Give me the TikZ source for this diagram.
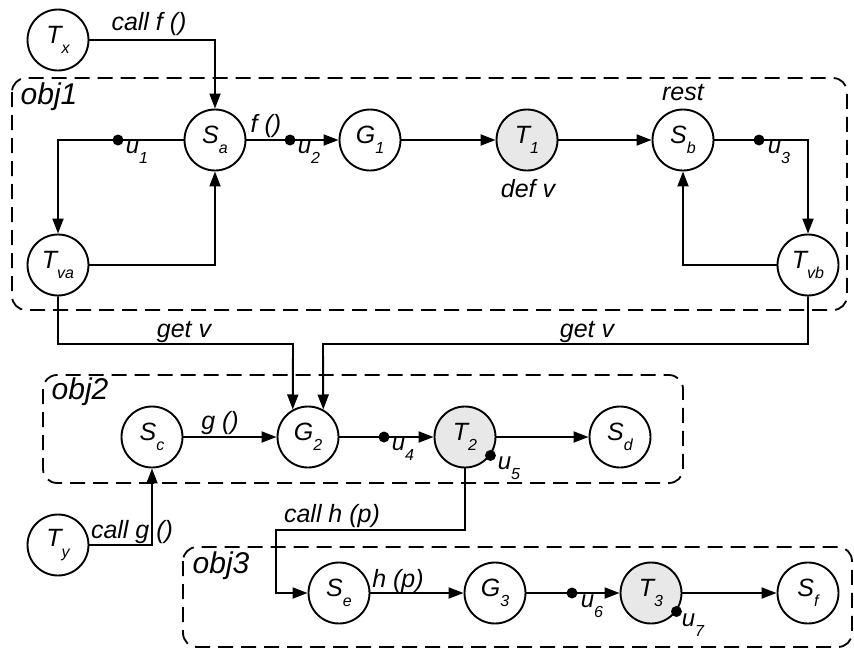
\documentclass[tikz,border=0pt]{standalone}
\usepackage{fontspec}
\setmainfont{Liberation Sans}
\usetikzlibrary{arrows.meta}
\newcommand\mysub[1]{\raisebox{-0.42em}{\fontsize{16}{16}\selectfont #1}}
\begin{document}
\begin{tikzpicture}[x=1pt,y=-1pt,
 st/.style={circle,draw,line width=1.9pt,minimum size=61pt,inner sep=0pt,font=\fontsize{25}{25}\selectfont\itshape},
 gst/.style={st,fill=black!9},
 arr/.style={line width=1.9pt,-{Triangle[length=15pt,width=11pt]}},
 dot/.style={circle,fill,inner sep=0pt,minimum size=11pt},
 lab/.style={font=\fontsize{25}{25}\selectfont\itshape,inner sep=0pt},
 ulab/.style={font=\fontsize{24}{24}\selectfont\itshape,inner sep=0pt},
 objlab/.style={font=\fontsize{30}{30}\selectfont\itshape,inner sep=0pt},
 grp/.style={draw,line width=1.8pt,dash pattern=on 15pt off 8pt,rounded corners=14pt}]
\useasboundingbox (0,0) rectangle (854,651);
% group boxes
\draw[grp] (12,78) rectangle (847,310);
\draw[grp] (43,375) rectangle (683,483);
\draw[grp] (183,547) rectangle (852,647);
\node[objlab] (o1) at (49,97) {obj1};
\node[objlab] (o2) at (80,392) {obj2};
\node[objlab] (o3) at (221,566) {obj3};
% states
\node[st] (Tx) at (58,40) {T\mysub{x}};
\node[st] (Sa) at (215,140) {S\mysub{a}};
\node[st] (G1) at (370,140) {G\mysub{1}};
\node[gst] (T1) at (527,140) {T\mysub{1}};
\node[st] (Sb) at (683,140) {S\mysub{b}};
\node[st] (Tva) at (58,265) {T\mysub{va}};
\node[st] (Tvb) at (808,265) {T\mysub{vb}};
\node[st] (Sc) at (152,437) {S\mysub{c}};
\node[st] (G2) at (308,437) {G\mysub{2}};
\node[gst] (T2) at (465,437) {T\mysub{2}};
\node[st] (Sd) at (620,437) {S\mysub{d}};
\node[st] (Ty) at (58,545) {T\mysub{y}};
\node[st] (Se) at (339,593) {S\mysub{e}};
\node[st] (G3) at (495,593) {G\mysub{3}};
\node[gst] (T3) at (651,593) {T\mysub{3}};
\node[st] (Sf) at (808,593) {S\mysub{f}};
% helper coordinates
\coordinate (gl) at (293,344);
\coordinate (gr) at (323,344);
\coordinate (hc) at (276,530);
% connectors
\draw[arr] (Tx.east) -| (Sa.north);
\draw[arr] (Sa.west) -| (Tva.north);
\draw[arr] (Tva.east) -| (Sa.south);
\draw[arr] (Sa) -- (G1);
\draw[arr] (G1) -- (T1);
\draw[arr] (T1) -- (Sb);
\draw[arr] (Sb.east) -| (Tvb.north);
\draw[arr] (Tvb.west) -| (Sb.south);
\draw[arr] (Tva.south) |- (gl) -- (G2.119);
\draw[arr] (Tvb.south) |- (gr) -- (G2.61);
\draw[arr] (Sc) -- (G2);
\draw[arr] (G2) -- (T2);
\draw[arr] (T2) -- (Sd);
\draw[arr] (Ty.east) -| (Sc.south);
\draw[arr] (T2.south) |- (hc) |- (Se.west);
\draw[arr] (Se) -- (G3);
\draw[arr] (G3) -- (T3);
\draw[arr] (T3) -- (Sf);
% dots
\node[dot] (d1) at (118,140) {};
\node[dot] (d2) at (290,140) {};
\node[dot] (d3) at (759,140) {};
\node[dot] (d4) at (384,437) {};
\node[dot] (d5) at (T2.-36) {};
\node[dot] (d6) at (572,593) {};
\node[dot] (d7) at (T3.-36) {};
% labels
\node[lab] (l1) at (149,24) {call f ()};
\node[lab] (l2) at (266,126) {f ()};
\node[lab] (l3) at (528,189) {def v};
\node[lab] (l4) at (683,93) {rest};
\node[lab] (l5) at (184,332) {get v};
\node[lab] (l6) at (587,332) {get v};
\node[lab] (l7) at (220,423) {g ()};
\node[lab] (l8) at (332,516) {call h (p)};
\node[lab] (l9) at (132,532) {call g ()};
\node[lab] (l10) at (398,581) {h (p)};
\node[ulab] (u1) at (137,152) {u\mysub{1}};
\node[ulab] (u2) at (309,152) {u\mysub{2}};
\node[ulab] (u3) at (779,152) {u\mysub{3}};
\node[ulab] (u4) at (403,449) {u\mysub{4}};
\node[ulab] (u5) at (509,468) {u\mysub{5}};
\node[ulab] (u6) at (592,606) {u\mysub{6}};
\node[ulab] (u7) at (693,625) {u\mysub{7}};
\end{tikzpicture}
\end{document}
